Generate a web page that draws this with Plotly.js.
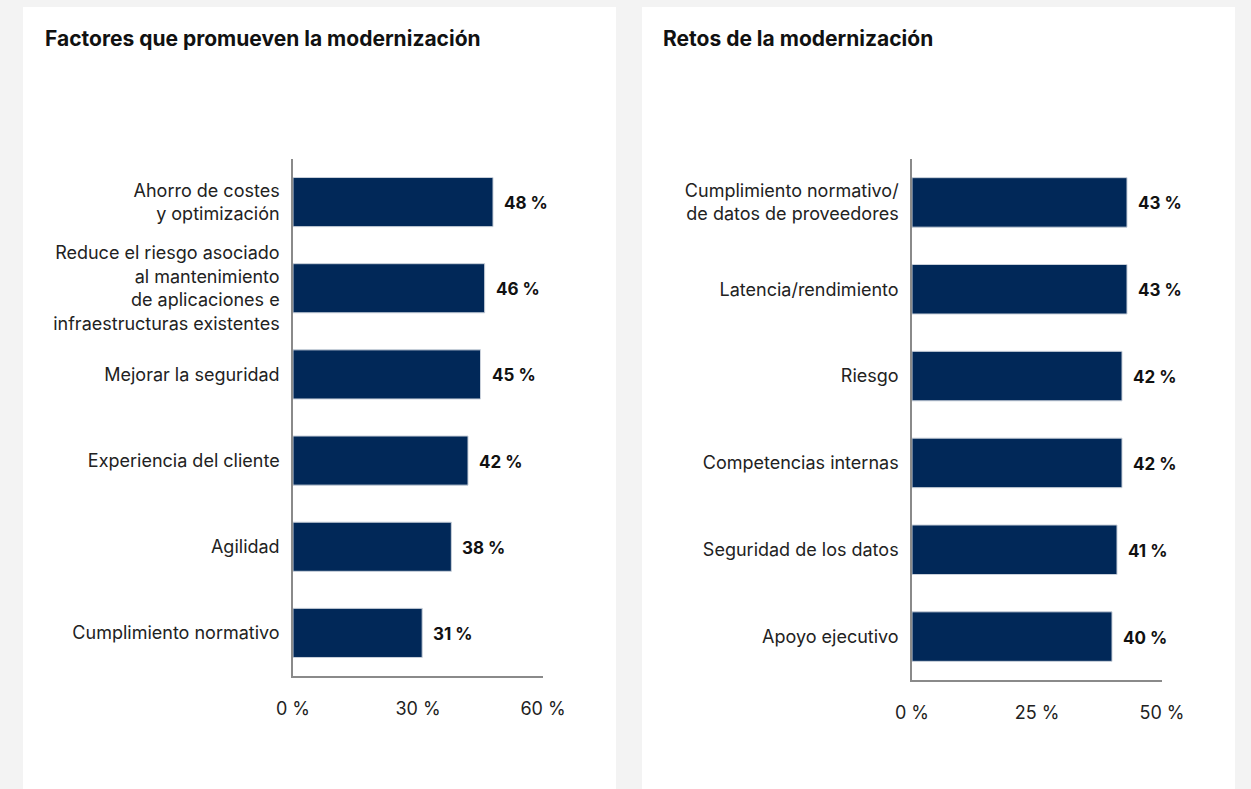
<!DOCTYPE html>
<html>
<head>
<meta charset="utf-8">
<script src="https://cdn.plot.ly/plotly-3.0.1.min.js"></script>
<style>html,body{margin:0;padding:0;background:#f3f3f3;}#chart{width:1251px;height:789px;}</style>
</head>
<body>
<div id="chart"></div>
<script>
const leftTitle = "Factores que promueven la modernización";
const leftCategories = [
  "Ahorro de costes<br>y optimización",
  "Reduce el riesgo asociado<br>al mantenimiento<br>de aplicaciones e<br>infraestructuras existentes",
  "Mejorar la seguridad",
  "Experiencia del cliente",
  "Agilidad",
  "Cumplimiento normativo"
];
const leftValues = [48, 46, 45, 42, 38, 31];
const leftTickVals = [0, 30, 60];
const leftTickText = ["0 %", "30 %", "60 %"];

const rightTitle = "Retos de la modernización";
const rightCategories = [
  "Cumplimiento normativo/<br>de datos de proveedores",
  "Latencia/rendimiento",
  "Riesgo",
  "Competencias internas",
  "Seguridad de los datos",
  "Apoyo ejecutivo"
];
const rightValues = [43, 43, 42, 42, 41, 40];
const rightTickVals = [0, 25, 50];
const rightTickText = ["0 %", "25 %", "50 %"];

const W = 1251, H = 789;
const px = x => x / W;
const py = y => 1 - y / H;
const barColor = "#012858";
const fontFam = "Inter, Roboto, 'Liberation Sans', sans-serif";

const traces = [
  {type: "bar", orientation: "h", x: leftValues, y: leftCategories, xaxis: "x", yaxis: "y",
   width: 0.57, marker: {color: barColor, line: {color: "#c9d0da", width: 1}}, hoverinfo: "x+y"},
  {type: "bar", orientation: "h", x: rightValues, y: rightCategories, xaxis: "x2", yaxis: "y2",
   width: 0.57, marker: {color: barColor, line: {color: "#c9d0da", width: 1}}, hoverinfo: "x+y"}
];

const annotations = [];
leftValues.forEach((v, i) => annotations.push({
  xref: "x", yref: "y", x: v, y: leftCategories[i], text: "<b>" + v + " %</b>",
  showarrow: false, xanchor: "left", xshift: 9, yshift: -1, font: {size: 17, color: "#111", family: fontFam}
}));
rightValues.forEach((v, i) => annotations.push({
  xref: "x2", yref: "y2", x: v, y: rightCategories[i], text: "<b>" + v + " %</b>",
  showarrow: false, xanchor: "left", xshift: 9, yshift: -1, font: {size: 17, color: "#111", family: fontFam}
}));
annotations.push({xref: "paper", yref: "paper", x: px(43), y: py(38), xanchor: "left", yanchor: "middle",
  text: "<b>" + leftTitle + "</b>", showarrow: false, font: {size: 21, color: "#111", family: fontFam}});
annotations.push({xref: "paper", yref: "paper", x: px(661), y: py(38), xanchor: "left", yanchor: "middle",
  text: "<b>" + rightTitle + "</b>", showarrow: false, font: {size: 21, color: "#111", family: fontFam}});

const xCommon = {showgrid: false, zeroline: false, showline: true, linecolor: "#8a8a8a", linewidth: 1.5,
  ticks: "outside", ticklen: 16, tickcolor: "rgba(0,0,0,0)", tickfont: {size: 18, color: "#222", family: fontFam},
  fixedrange: true};
const yCommon = {type: "category", autorange: "reversed", showgrid: false, zeroline: false, showline: true,
  linecolor: "#8a8a8a", linewidth: 1.5, ticks: "outside", ticklen: 8, tickcolor: "rgba(0,0,0,0)",
  tickfont: {size: 18, color: "#222", family: fontFam}, fixedrange: true};

const layout = {
  width: W, height: H,
  margin: {l: 0, r: 0, t: 0, b: 0},
  paper_bgcolor: "#f3f3f3", plot_bgcolor: "rgba(0,0,0,0)",
  showlegend: false, bargap: 0.43,
  font: {family: fontFam},
  xaxis: Object.assign({}, xCommon, {domain: [px(293), px(543)], range: [0, 60], tickvals: leftTickVals, ticktext: leftTickText, anchor: "y"}),
  yaxis: Object.assign({}, yCommon, {domain: [py(676), py(159)], anchor: "x"}),
  xaxis2: Object.assign({}, xCommon, {domain: [px(912), px(1162)], range: [0, 50], tickvals: rightTickVals, ticktext: rightTickText, anchor: "y2"}),
  yaxis2: Object.assign({}, yCommon, {domain: [py(680), py(159)], anchor: "x2"}),
  shapes: [
    {type: "rect", xref: "paper", yref: "paper", x0: px(23), x1: px(616), y0: 0, y1: py(7), fillcolor: "#ffffff", line: {width: 0}, layer: "below"},
    {type: "rect", xref: "paper", yref: "paper", x0: px(642), x1: px(1235), y0: 0, y1: py(7), fillcolor: "#ffffff", line: {width: 0}, layer: "below"}
  ],
  annotations: annotations
};

Plotly.newPlot("chart", traces, layout, {displayModeBar: false, responsive: false});
</script>
</body>
</html>
